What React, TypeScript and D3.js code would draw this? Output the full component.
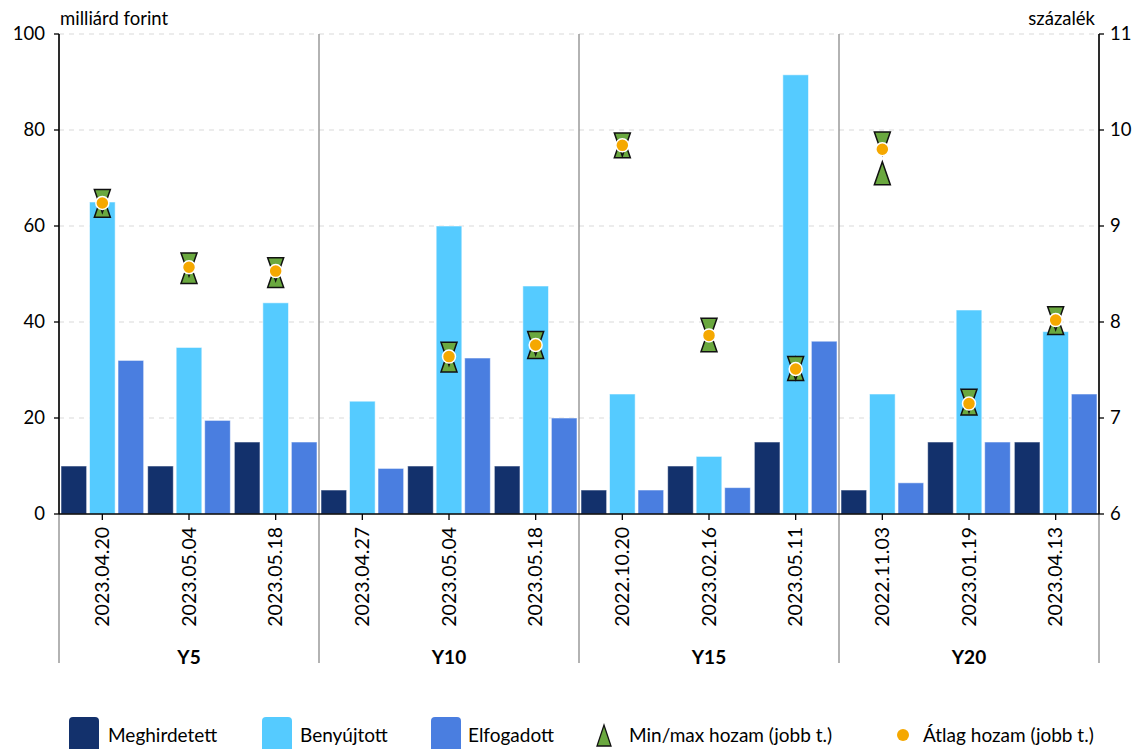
import React from "react";
import * as d3 from "d3";

const groups = ["Y5", "Y10", "Y15", "Y20"];
const dates = [
  "2023.04.20", "2023.05.04", "2023.05.18",
  "2023.04.27", "2023.05.04", "2023.05.18",
  "2022.10.20", "2023.02.16", "2023.05.11",
  "2022.11.03", "2023.01.19", "2023.04.13",
];

const meghirdetett = [10, 10, 15, 5, 10, 10, 5, 10, 15, 5, 15, 15];
const benyujtott = [65, 34.7, 44, 23.5, 60, 47.5, 25, 12, 91.5, 25, 42.5, 38];
const elfogadott = [32, 19.5, 15, 9.5, 32.5, 20, 5, 5.5, 36, 6.5, 15, 25];

const hozamMax = [9.26, 8.6, 8.55, null, 7.67, 7.78, 9.85, 7.92, 7.52, 9.86, 7.18, 8.04];
const hozamMin = [9.21, 8.52, 8.48, null, 7.6, 7.74, 9.83, 7.81, 7.51, 9.55, 7.15, 7.99];
const hozamAtlag = [9.24, 8.57, 8.53, null, 7.64, 7.76, 9.84, 7.86, 7.51, 9.8, 7.15, 8.02];

const leftTicks = [0, 20, 40, 60, 80, 100];
const rightTicks = [6, 7, 8, 9, 10, 11];

const seriesNames = ["Meghirdetett", "Benyújtott", "Elfogadott"];
const seriesColors = ["#13316c", "#55cbff", "#4a7ee0"];
const seriesData = [meghirdetett, benyujtott, elfogadott];

const W = 1138;
const H = 749;
const L = 59;
const R = 1099;
const T = 34;
const B = 514;
const FONT = "Lato, 'Open Sans', sans-serif";

export default function App() {
  const y = d3.scaleLinear().domain([0, 100]).range([B, T]);
  const y2 = d3.scaleLinear().domain([6, 11]).range([B, T]);
  const x0 = d3.scaleBand<number>().domain(d3.range(dates.length)).range([L, R]).padding(0);
  const x1 = d3
    .scaleBand<number>()
    .domain([0, 1, 2])
    .range([0, x0.bandwidth()])
    .paddingInner(0.1)
    .paddingOuter(0.07);
  const gx = d3.scaleBand<number>().domain(d3.range(groups.length)).range([L, R]).padding(0);

  const triW = 8;
  const triH = 11.5;
  const up = (cx: number, cy: number) =>
    `${cx - triW},${cy + triH} ${cx + triW},${cy + triH} ${cx},${cy - triH}`;
  const down = (cx: number, cy: number) =>
    `${cx - triW},${cy - triH} ${cx + triW},${cy - triH} ${cx},${cy + triH}`;

  const legendItems = [
    { type: "rect", color: seriesColors[0], label: seriesNames[0], x: 69, tx: 108 },
    { type: "rect", color: seriesColors[1], label: seriesNames[1], x: 262, tx: 300 },
    { type: "rect", color: seriesColors[2], label: seriesNames[2], x: 431, tx: 468 },
    { type: "tri", label: "Min/max hozam (jobb t.)", x: 604, tx: 629 },
    { type: "dot", label: "Átlag hozam (jobb t.)", x: 903, tx: 923 },
  ];

  return (
    <svg
      width={W}
      height={H}
      style={{ position: "absolute", left: 0, top: 0, display: "block", background: "#fff" }}
      fontFamily={FONT}
    >
      {leftTicks.filter((t) => t > 0).map((t) => (
        <line key={"g" + t} x1={L} x2={R} y1={y(t)} y2={y(t)} stroke="#d9d9d9" strokeWidth={1} strokeDasharray="5,5" />
      ))}
      {d3.range(groups.length + 1).map((i) => {
        const xx = i < groups.length ? gx(i)! : R;
        return <line key={"s" + i} x1={xx} x2={xx} y1={T} y2={663} stroke="#8a8a8a" strokeWidth={1.3} />;
      })}
      {dates.map((d, i) => (
        <g key={"b" + i} transform={`translate(${x0(i)},0)`}>
          {seriesData.map((s, j) => (
            <rect
              key={j}
              x={x1(j)}
              y={y(s[i])}
              width={x1.bandwidth()}
              height={B - y(s[i])}
              fill={seriesColors[j]}
              stroke="rgba(255,255,255,0.55)"
              strokeWidth={1}
            />
          ))}
        </g>
      ))}
      <line x1={L} x2={L} y1={T} y2={B} stroke="#000" strokeWidth={1.5} />
      <line x1={R} x2={R} y1={T} y2={B} stroke="#000" strokeWidth={1.5} />
      <line x1={L} x2={R} y1={B} y2={B} stroke="#000" strokeWidth={1.5} />
      {leftTicks.map((t) => (
        <g key={"lt" + t}>
          <line x1={L - 5} x2={L} y1={y(t)} y2={y(t)} stroke="#000" strokeWidth={1.3} />
          <text x={L - 14} y={y(t)} dy="0.35em" textAnchor="end" fontSize={18.5} fill="#000">
            {t}
          </text>
        </g>
      ))}
      {rightTicks.map((t) => (
        <g key={"rt" + t}>
          <line x1={R} x2={R + 5} y1={y2(t)} y2={y2(t)} stroke="#000" strokeWidth={1.3} />
          <text x={R + 11} y={y2(t)} dy="0.35em" textAnchor="start" fontSize={18.5} fill="#000">
            {t}
          </text>
        </g>
      ))}
      <text x={L + 1} y={25} fontSize={18.5} fill="#000">milliárd forint</text>
      <text x={R - 4} y={25} fontSize={18.5} textAnchor="end" fill="#000">százalék</text>
      {dates.map((d, i) => {
        const cx = x0(i)! + x0.bandwidth() / 2;
        return (
          <g key={"c" + i}>
            <line x1={cx} x2={cx} y1={B} y2={B + 6} stroke="#000" strokeWidth={1.3} />
            <text
              transform={`translate(${cx},${527}) rotate(-90)`}
              textAnchor="end"
              dy="0.35em"
              fontSize={19.5}
              fill="#000"
            >
              {d}
            </text>
          </g>
        );
      })}
      {groups.map((g, i) => (
        <text key={"gl" + i} x={gx(i)! + gx.bandwidth() / 2} y={664} textAnchor="middle" fontWeight="bold" fontSize={19} fill="#000">
          {g}
        </text>
      ))}
      {dates.map((d, i) => {
        const mx = hozamMax[i];
        const mn = hozamMin[i];
        const av = hozamAtlag[i];
        if (mx == null || mn == null || av == null) return null;
        const cx = x0(i)! + x1(1)! + x1.bandwidth() / 2;
        return (
          <g key={"m" + i}>
            <polygon points={up(cx, y2(mn))} fill="#6aa83f" stroke="#111" strokeWidth={1.5} />
            <polygon points={down(cx, y2(mx))} fill="#6aa83f" stroke="#111" strokeWidth={1.5} />
            <circle cx={cx} cy={y2(av)} r={6.5} fill="#f5a800" stroke="#fff" strokeWidth={1.5} />
          </g>
        );
      })}
      {legendItems.map((it, k) => (
        <g key={"lg" + k}>
          {it.type === "rect" && (
            <rect x={it.x} y={717} width={30} height={40} rx={4} fill={it.color} />
          )}
          {it.type === "tri" && (
            <polygon points={`${it.x - 7},746 ${it.x + 7},746 ${it.x},725`} fill="#6aa83f" stroke="#111" strokeWidth={1.3} />
          )}
          {it.type === "dot" && <circle cx={it.x} cy={735} r={6} fill="#f5a800" />}
          <text x={it.tx} y={735} dy="0.35em" fontSize={19} fill="#000">
            {it.label}
          </text>
        </g>
      ))}
    </svg>
  );
}
